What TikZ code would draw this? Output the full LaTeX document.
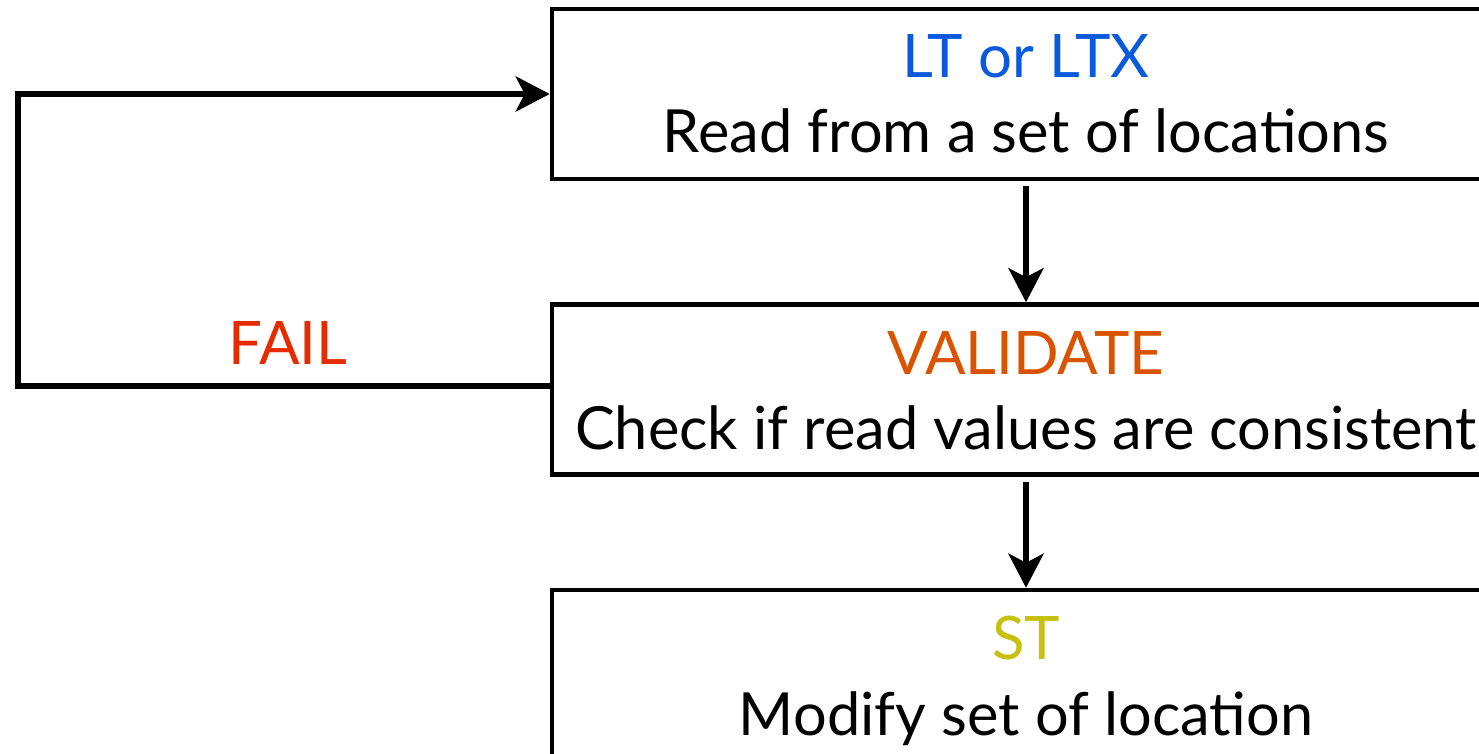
\documentclass[tikz,border=0pt]{standalone}
\usepackage{fontspec}
\setmainfont{Lato}
\usetikzlibrary{arrows.meta}
\definecolor{ltblue}{RGB}{10,90,220}
\definecolor{valorange}{RGB}{217,83,0}
\definecolor{styellow}{RGB}{200,192,16}
\definecolor{failred}{RGB}{229,43,0}
\tikzset{
  stage/.style={draw=black, line width=4.5pt, minimum width=948pt, minimum height=170pt, inner sep=0pt},
  headline/.style={anchor=base, font=\fontsize{60}{68}\selectfont},
  detail/.style={anchor=base, font=\fontsize{59.5}{68}\selectfont, text=black},
  flow/.style={line width=6.5pt, -{Stealth[length=34pt, width=35pt, inset=9pt]}},
}
\begin{document}
\begin{tikzpicture}[x=1pt, y=-1pt]
  \useasboundingbox (0,0) rectangle (1479,754);
  \clip (0,0) rectangle (1479,754);

  % three stages of the transaction
  \node[stage] (read)  at (1026,94)  {};
  \node[stage] (check) at (1026,389.5) {};
  \node[stage] (write) at (1026,675) {};

  \node[headline, text=ltblue]     (readT)  at ([yshift=-71pt]read.north)  {LT or LTX};
  \node[detail]                    (readD)  at ([yshift=-146pt]read.north) {Read from a set of locations};
  \node[headline, text=valorange]  (checkT) at ([yshift=-72pt]check.north) {VALIDATE};
  \node[detail]                    (checkD) at ([yshift=-147pt]check.north) {Check if read values are consistent};
  \node[headline, text=styellow]   (writeT) at ([yshift=-72pt]write.north) {ST};
  \node[detail]                    (writeD) at ([yshift=-148pt]write.north) {Modify set of location};

  % forward arrows
  \draw[flow, shorten <=5pt] (read.south) -- (check.north);
  \draw[flow, shorten <=5pt] (check.south) -- (write.north);

  % retry loop on failure
  \coordinate (corner) at (18,386);
  \draw[flow, line join=miter] ([yshift=3.5pt]check.west) -- ([yshift=3.5pt]check.west -| corner) |- (read.west);
  \node[headline, text=failred] (fail) at (288,364) {FAIL};
\end{tikzpicture}
\end{document}
